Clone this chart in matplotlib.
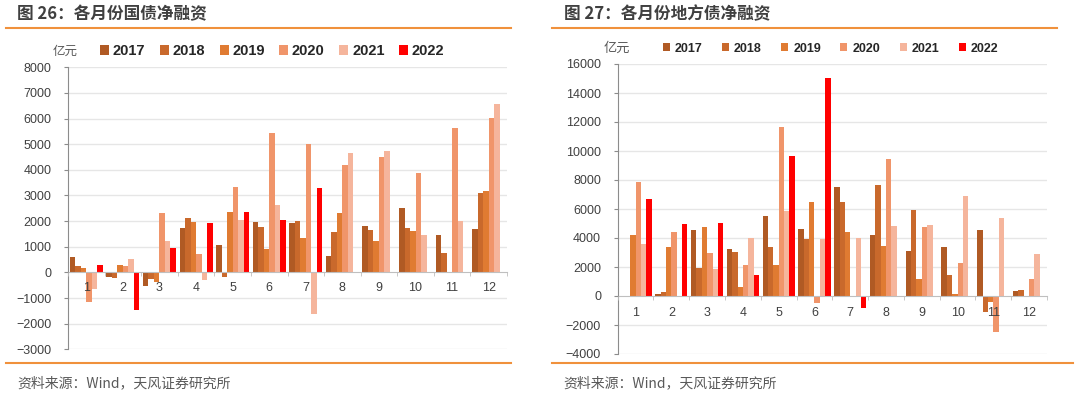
import numpy as np
import matplotlib.pyplot as plt
from matplotlib.ticker import MultipleLocator, FixedLocator

# ---- data ----
months = ['1', '2', '3', '4', '5', '6', '7', '8', '9', '10', '11', '12']
years = ['2017', '2018', '2019', '2020', '2021', '2022']
nan = np.nan

# 图26 国债净融资 (亿元)
gov_2017 = [610, -180, -520, 1750, 1050, 1970, 1910, 650, 1820, 2510, 1470, 1680]
gov_2018 = [250, -220, -270, 2140, -170, 1760, 2020, 1590, 1660, 1750, 750, 3080]
gov_2019 = [170, 300, -380, 1950, 2350, 905, 1330, 2300, 1220, 1610, 0, 3160]
gov_2020 = [-1170, 260, 2310, 730, 3340, 5450, 5010, 4180, 4510, 3870, 5640, 6010]
gov_2021 = [-660, 510, 1220, -300, 2040, 2610, -1640, 4660, 4730, 1440, 2010, 6570]
gov_2022 = [270, -1470, 960, 1920, 2370, 2030, 3310, nan, nan, nan, nan, nan]

# 图27 地方债净融资 (亿元)
loc_2017 = [0, 115, 4570, 3270, 5520, 4620, 7540, 4180, 3080, 3360, 4530, 320]
loc_2018 = [0, 275, 1910, 3030, 3360, 3910, 6510, 7680, 5930, 1430, -1100, 390]
loc_2019 = [4180, 3360, 4780, 600, 2160, 6510, 4410, 3470, 1200, 140, -390, 0]
loc_2020 = [7840, 4390, 2940, 2160, 11680, -460, 0, 9430, 4760, 2250, -2460, 1200]
loc_2021 = [3600, 30, 1860, 4000, 5860, 3930, 4000, 4830, 4870, 6900, 5400, 2900]
loc_2022 = [6710, 4970, 5010, 1470, 9660, 15010, -830, nan, nan, nan, nan, nan]

gov_series = [gov_2017, gov_2018, gov_2019, gov_2020, gov_2021, gov_2022]
loc_series = [loc_2017, loc_2018, loc_2019, loc_2020, loc_2021, loc_2022]

colors = ['#B05A24', '#C9692C', '#E07B32', '#F0956A', '#F5B59C', '#FF0000']
orange = '#F0913C'
cjk = ['Noto Sans CJK SC', 'DejaVu Sans']
num = ['Liberation Sans', 'DejaVu Sans']

W, H = 1080, 394
fig = plt.figure(figsize=(W / 100, H / 100), dpi=100)


def px_axes(x0, y0, x1, y1):
    return fig.add_axes([x0 / W, 1 - y1 / H, (x1 - x0) / W, (y1 - y0) / H])


def draw_panel(ax, series, ylim, ystep):
    x = np.arange(len(months))
    w = 0.15
    for j, (vals, c) in enumerate(zip(series, colors)):
        ax.bar(x + (j - 2.5) * w, vals, width=w, color=c, label=years[j], zorder=2)
    ax.set_xlim(-0.5, len(months) - 0.5)
    ax.set_ylim(*ylim)
    ax.yaxis.set_major_locator(MultipleLocator(ystep))
    # grid lines behind the bars, axis (labels) in front
    ax.set_axisbelow(False)
    for yv in ax.get_yticks():
        if ylim[0] <= yv <= ylim[1] and yv != 0:
            ax.axhline(yv, color='#E6E6E6', linewidth=1.0, zorder=0)
    for s in ['top', 'right']:
        ax.spines[s].set_visible(False)
    ax.spines['left'].set_color('#8C8C8C')
    ax.spines['bottom'].set_position(('data', 0))
    ax.spines['bottom'].set_color('#BFBFBF')
    ax.set_xticks(x)
    ax.set_xticklabels(months)
    ax.xaxis.set_minor_locator(FixedLocator(np.arange(-0.5, len(months), 1.0)))
    ax.tick_params(axis='x', which='major', length=0, pad=7, labelsize=9,
                   labelcolor='#404040')
    ax.tick_params(axis='x', which='minor', length=3, color='#BFBFBF', direction='out')
    ax.tick_params(axis='y', length=3, color='#8C8C8C', pad=9, labelsize=9,
                   labelcolor='#404040')
    for lab in ax.get_xticklabels() + ax.get_yticklabels():
        lab.set_family(num)


# left panel
ax1 = px_axes(68, 67.3, 507, 349.3)
draw_panel(ax1, gov_series, (-3000, 8000), 1000)
# right panel
ax2 = px_axes(617.7, 64, 1047, 354)
draw_panel(ax2, loc_series, (-4000, 16000), 2000)
ax2.tick_params(axis='x', which='major', pad=8)

# legends
leg1 = ax1.legend(loc='center left', bbox_to_anchor=(100 / W, 1 - 51 / H),
                  bbox_transform=fig.transFigure, ncol=6, frameon=False,
                  borderpad=0, borderaxespad=0, handlelength=0.62, handleheight=0.62,
                  handletextpad=0.25, columnspacing=1.0,
                  prop={'family': num, 'weight': 'bold', 'size': 10.5})
leg2 = ax2.legend(loc='center left', bbox_to_anchor=(663 / W, 1 - 48.5 / H),
                  bbox_transform=fig.transFigure, ncol=6, frameon=False,
                  borderpad=0, borderaxespad=0, handlelength=0.56, handleheight=0.56,
                  handletextpad=0.4, columnspacing=1.55,
                  prop={'family': num, 'weight': 'bold', 'size': 9})
for leg in (leg1, leg2):
    for t in leg.get_texts():
        t.set_color('#262626')

fig.text(53 / W, 1 - 51.5 / H, '亿元', family=cjk, fontsize=9, color='#595959', va='center')
fig.text(604 / W, 1 - 48.5 / H, '亿元', family=cjk, fontsize=9.5, color='#595959', va='center')

# titles
fig.text(17 / W, 1 - 14 / H, '图 26：各月份国债净融资', family=cjk, fontsize=12,
         fontweight='bold', color='#404040', va='center')
fig.text(564 / W, 1 - 14 / H, '图 27：各月份地方债净融资', family=cjk, fontsize=12,
         fontweight='bold', color='#404040', va='center')

# orange rules
for x0, x1 in [(5.7, 511), (552, 1057)]:
    fig.add_artist(plt.Line2D([x0 / W, x1 / W], [1 - 28.3 / H] * 2, color=orange, lw=1.5))
for x0, x1 in [(5.7, 511), (552, 1073)]:
    fig.add_artist(plt.Line2D([x0 / W, x1 / W], [1 - 363.3 / H] * 2, color=orange, lw=1.5))

# source
fig.text(17 / W, 1 - 383 / H, '资料来源：Wind，天风证券研究所', family=cjk, fontsize=10,
         color='#595959', va='center')
fig.text(563 / W, 1 - 383 / H, '资料来源：Wind，天风证券研究所', family=cjk, fontsize=10,
         color='#595959', va='center')

fig.savefig('out.png', dpi=100, facecolor='white')
